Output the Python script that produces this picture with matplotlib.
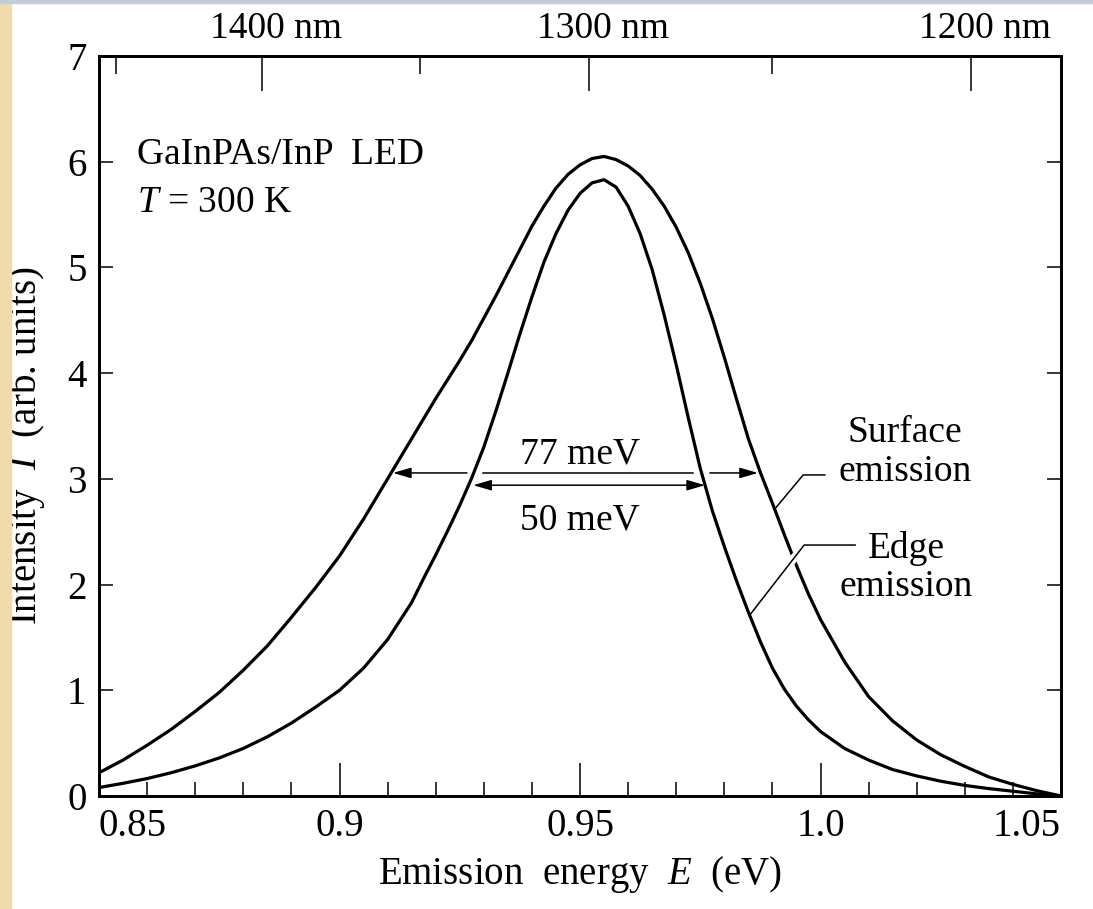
import matplotlib
matplotlib.use("Agg")
import matplotlib.pyplot as plt
import matplotlib.patheffects as pe
from matplotlib.patches import Rectangle

plt.rcParams['font.family'] = ['Liberation Serif', 'DejaVu Serif']
plt.rcParams['mathtext.fontset'] = 'custom'
plt.rcParams['mathtext.rm'] = 'Liberation Serif'
plt.rcParams['mathtext.it'] = 'Liberation Serif:italic'

# photon energy (eV), finer steps round the peak
energy = [0.850, 0.855, 0.860, 0.865, 0.870, 0.875, 0.880, 0.885, 0.890, 0.895,
          0.900, 0.905, 0.910, 0.915,
          0.9175, 0.920, 0.9225, 0.925, 0.9275, 0.930, 0.9325, 0.935, 0.9375, 0.940,
          0.9425, 0.945, 0.9475, 0.950, 0.9525, 0.955, 0.9575, 0.960, 0.9625, 0.965,
          0.9675, 0.970, 0.9725, 0.975, 0.9775, 0.980, 0.9825, 0.985, 0.9875, 0.990,
          0.9925, 0.995, 0.9975, 1.000,
          1.005, 1.010, 1.015, 1.020, 1.025, 1.030, 1.035, 1.040, 1.045, 1.050]

surface = [0.22, 0.34, 0.48, 0.63, 0.80, 0.98, 1.19, 1.42, 1.69, 1.97,
           2.27, 2.62, 3.00, 3.38,
           3.57, 3.76, 3.94, 4.12, 4.31, 4.52, 4.73, 4.95, 5.17, 5.39,
           5.58, 5.75, 5.88, 5.97, 6.03, 6.05, 6.02, 5.96, 5.87, 5.74,
           5.58, 5.38, 5.14, 4.85, 4.52, 4.15, 3.76, 3.38, 3.06, 2.77,
           2.47, 2.18, 1.91, 1.67,
           1.27, 0.94, 0.71, 0.53, 0.39, 0.28, 0.18, 0.11, 0.05, 0.00]

edge = [0.08, 0.12, 0.165, 0.22, 0.285, 0.36, 0.45, 0.56, 0.69, 0.84,
        1.00, 1.21, 1.48, 1.83,
        2.06, 2.28, 2.51, 2.75, 3.01, 3.30, 3.64, 4.00, 4.37, 4.72,
        5.05, 5.32, 5.54, 5.70, 5.80, 5.83, 5.76, 5.58, 5.32, 4.98,
        4.55, 4.08, 3.58, 3.10, 2.70, 2.36, 2.04, 1.74, 1.46, 1.21,
        1.01, 0.85, 0.72, 0.61,
        0.45, 0.34, 0.25, 0.19, 0.14, 0.10, 0.07, 0.045, 0.02, 0.00]

x_ticks = [0.85, 0.9, 0.95, 1.0, 1.05]
x_labels = ['0.85', '0.9', '0.95', '1.0', '1.05']
y_ticks = [0, 1, 2, 3, 4, 5, 6, 7]
top_nm = [1400, 1300, 1200]
top_nm_minor = [1450, 1350, 1250]
HC = 1237.5  # nm*eV, as drawn on the original scale

fwhm_surface = (0.9111, 0.9870, 3.056)
fwhm_edge = (0.9278, 0.9760, 2.94)

fig = plt.figure(figsize=(10.93, 9.09), dpi=100)
fig.patches.append(Rectangle((0, 0), 11 / 1093, 1, transform=fig.transFigure,
                             color='#f0dcaa', zorder=0))
fig.patches.append(Rectangle((0, 1 - 3 / 909), 1, 3 / 909, transform=fig.transFigure,
                             color='#c4ccd8', zorder=0))

ax = fig.add_axes([99 / 1093, 1 - 796 / 909, 962 / 1093, 740 / 909])
ax.set_xlim(0.85, 1.05)
ax.set_ylim(0, 7)

lw = 2.3
ax.plot(energy, surface, color='black', lw=lw, zorder=3, solid_joinstyle='round')

# leader lines
ax.plot([0.9905, 0.9964, 1.0009], [2.715, 3.037, 3.037], color='black', lw=1.1, zorder=4)
ax.plot([0.9853, 0.9966, 1.0072], [1.712, 2.374, 2.374], color='black', lw=1.1, zorder=4,
        path_effects=[pe.Stroke(linewidth=6, foreground='white'), pe.Normal()])

ax.plot(energy, edge, color='black', lw=lw, zorder=5, solid_joinstyle='round')

# FWHM arrows
aprops = dict(arrowstyle='-|>,head_length=0.55,head_width=0.16', color='black',
              lw=1.1, shrinkA=0, shrinkB=0, mutation_scale=20)
l, r, y = fwhm_surface
ax.annotate('', xy=(l, y), xytext=(0.9265, y), arrowprops=aprops, zorder=6)
ax.annotate('', xy=(r, y), xytext=(0.9770, y), arrowprops=aprops, zorder=6)
ax.plot([0.9298, 0.9735], [y, y], color='black', lw=1.1, zorder=6)
l, r, y = fwhm_edge
ax.annotate('', xy=(l, y), xytext=(r, y), zorder=6,
            arrowprops=dict(arrowstyle='<|-|>,head_length=0.55,head_width=0.16',
                            color='black', lw=1.1, shrinkA=0, shrinkB=0,
                            mutation_scale=20))

fs = 27
ax.text(0.95, 3.15, '77 meV', ha='center', va='baseline', fontsize=fs)
ax.text(0.95, 2.52, '50 meV', ha='center', va='baseline', fontsize=fs)
ax.text(1.0176, 3.25, 'Surface\nemission', ha='center', va='center', fontsize=fs,
        linespacing=1.15)
ax.text(1.0178, 2.16, 'Edge\nemission', ha='center', va='center', fontsize=fs,
        linespacing=1.15)
ax.text(0.8579, 5.98, 'GaInPAs/InP  LED', ha='left', va='baseline', fontsize=fs)
ax.text(0.8579, 5.52, '$T$ = 300 K', ha='left', va='baseline', fontsize=fs)

# axes styling
for s in ax.spines.values():
    s.set_linewidth(2.0)
ax.set_xticks(x_ticks)
ax.set_xticklabels(x_labels)
ax.set_xticks([0.85 + 0.01 * i for i in range(21)], minor=True)
ax.set_yticks(y_ticks)
ax.tick_params(axis='x', which='major', direction='in', length=24, width=1.1,
               labelsize=28, pad=9, top=False)
ax.tick_params(axis='x', which='minor', direction='in', length=10, width=1.1, top=False)
ax.tick_params(axis='y', which='major', direction='in', length=10, width=1.1,
               labelsize=28, pad=9, right=True)
# end labels sit inside the frame, as in the original
xl = ax.get_xticklabels()
xl[0].set_ha('left')
xl[-1].set_ha('right')
ax.set_xlabel('Emission  energy  $E$  (eV)', fontsize=28, labelpad=6)
ax.set_ylabel('Intensity  $I$  (arb. units)', fontsize=28)
ax.yaxis.set_label_coords(-0.054, 0.474)

# top wavelength scale
ax2 = ax.twiny()
ax2.set_xlim(ax.get_xlim())
ax2.set_xticks([HC / w for w in top_nm])
ax2.set_xticks([HC / w for w in top_nm_minor], minor=True)
ax2.set_xticklabels([])
ax2.tick_params(axis='x', which='major', direction='in', length=25, width=1.1)
ax2.tick_params(axis='x', which='minor', direction='in', length=13, width=1.1)
for s in ax2.spines.values():
    s.set_linewidth(2.0)
for w in top_nm:
    ax.annotate(f'{w} nm', xy=(HC / w, 1), xycoords=('data', 'axes fraction'),
                xytext=(10, 7), textcoords='offset points', ha='center', va='bottom',
                fontsize=27, annotation_clip=False)

fig.savefig('out.png', dpi=100)
